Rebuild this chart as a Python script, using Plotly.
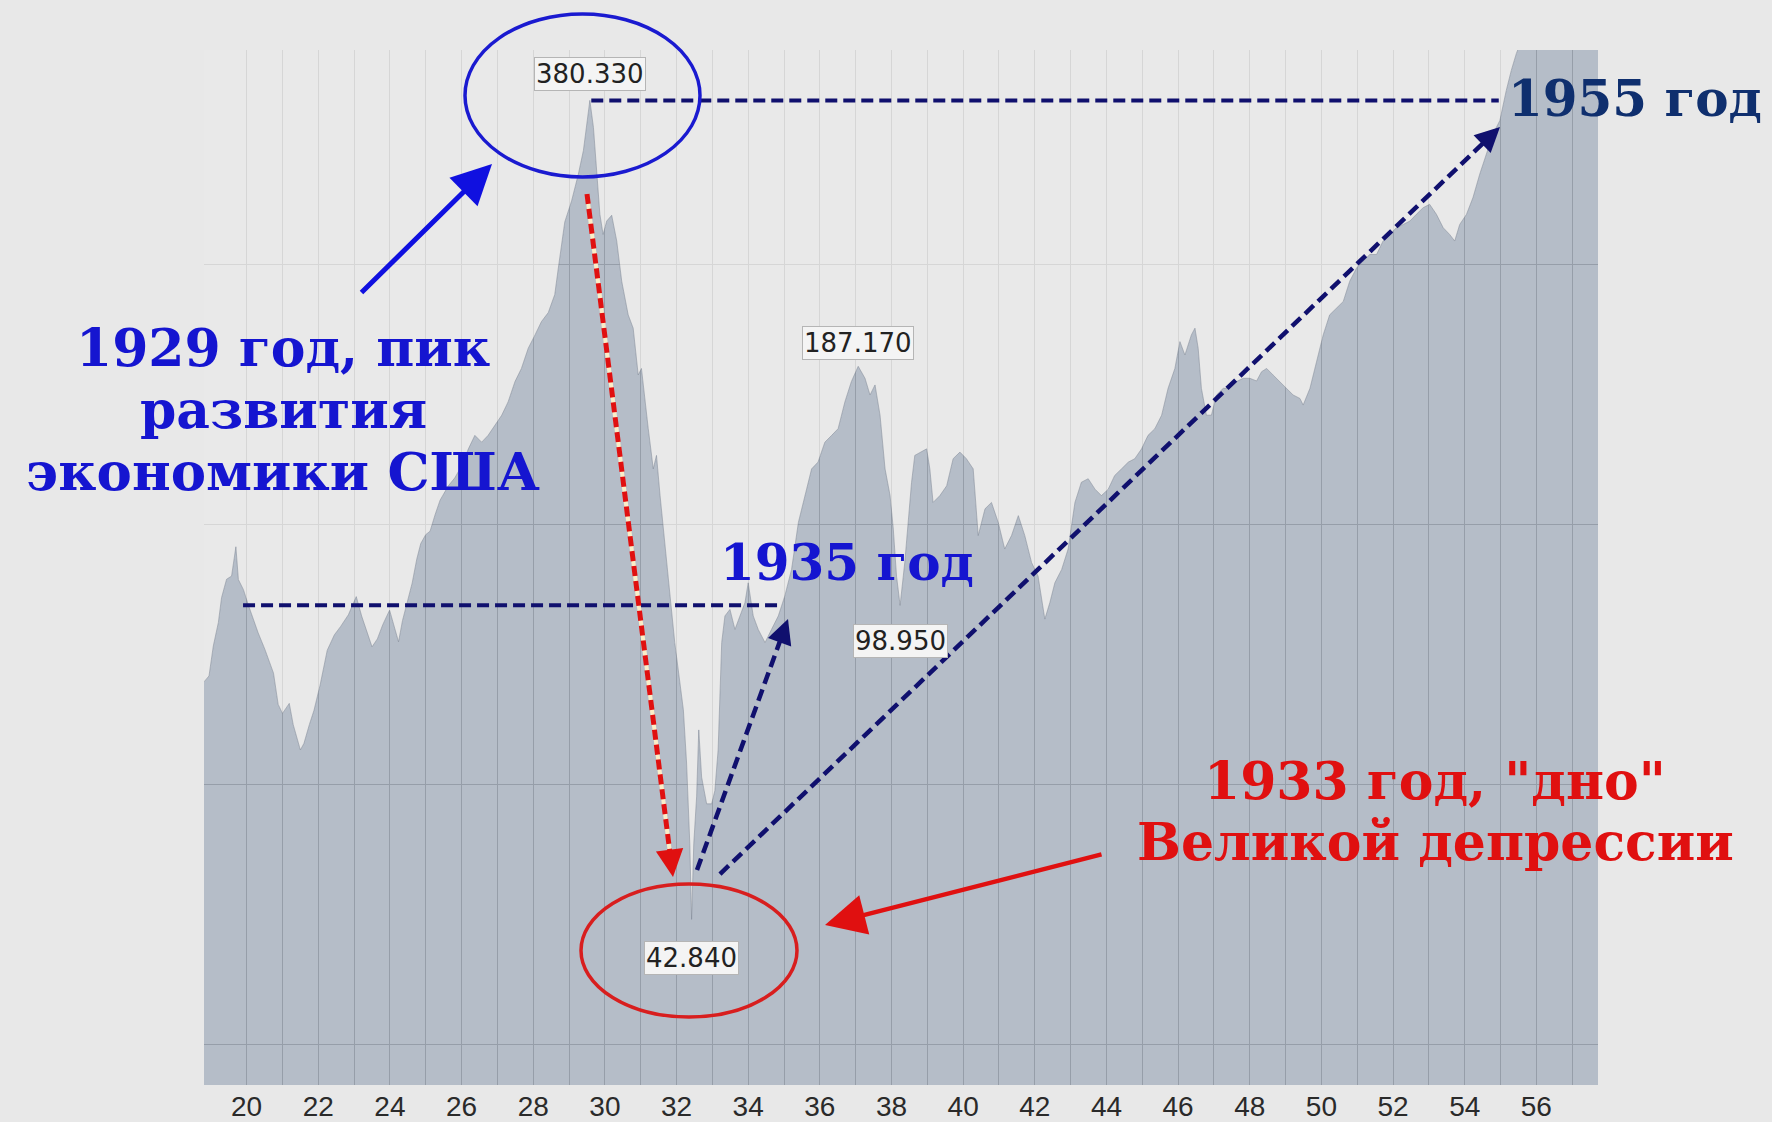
import math
import plotly.graph_objects as go

# ---------------- data ----------------
years = [1918.81, 1918.95, 1919.07, 1919.21, 1919.30, 1919.44, 1919.58, 1919.65, 1919.70, 1919.77,
         1919.91, 1920.05, 1920.19, 1920.32, 1920.51, 1920.65, 1920.75, 1920.88, 1921.00, 1921.19,
         1921.30, 1921.50, 1921.60, 1921.75, 1921.88, 1922.05, 1922.25, 1922.45, 1922.62, 1922.84,
         1923.06, 1923.21, 1923.38, 1923.50, 1923.65, 1923.80, 1923.99, 1924.14, 1924.24, 1924.35,
         1924.49, 1924.62, 1924.75, 1924.86, 1925.00, 1925.12, 1925.26, 1925.40, 1925.63, 1925.81,
         1926.00, 1926.10, 1926.19, 1926.37, 1926.56, 1926.74, 1926.93, 1927.12, 1927.30, 1927.49,
         1927.67, 1927.86, 1928.05, 1928.23, 1928.42, 1928.60, 1928.70, 1928.88, 1929.07, 1929.26,
         1929.40, 1929.49, 1929.58, 1929.68, 1929.77, 1929.86, 1929.95, 1930.05, 1930.19, 1930.33,
         1930.47, 1930.65, 1930.79, 1930.93, 1931.02, 1931.12, 1931.21, 1931.35, 1931.44, 1931.54,
         1931.68, 1931.82, 1931.95, 1932.09, 1932.19, 1932.28, 1932.37, 1932.42, 1932.48, 1932.56,
         1932.62, 1932.70, 1932.84, 1932.98, 1933.07, 1933.16, 1933.26, 1933.35, 1933.49, 1933.63,
         1933.77, 1933.91, 1934.00, 1934.14, 1934.28, 1934.47, 1934.65, 1934.84, 1935.02, 1935.21,
         1935.40, 1935.58, 1935.77, 1935.95, 1936.14, 1936.33, 1936.51, 1936.70, 1936.88, 1937.07,
         1937.26, 1937.40, 1937.54, 1937.68, 1937.82, 1937.96, 1938.05, 1938.14, 1938.24, 1938.37,
         1938.56, 1938.65, 1938.98, 1939.07, 1939.16, 1939.35, 1939.54, 1939.72, 1939.91, 1940.09,
         1940.28, 1940.42, 1940.61, 1940.79, 1940.98, 1941.16, 1941.35, 1941.54, 1941.72, 1941.91,
         1942.09, 1942.28, 1942.42, 1942.56, 1942.75, 1942.93, 1943.12, 1943.30, 1943.49, 1943.68,
         1943.86, 1944.05, 1944.23, 1944.42, 1944.61, 1944.79, 1944.98, 1945.16, 1945.35, 1945.54,
         1945.72, 1945.91, 1946.05, 1946.19, 1946.37, 1946.47, 1946.56, 1946.65, 1946.79, 1946.93,
         1947.07, 1947.26, 1947.44, 1947.63, 1947.82, 1948.00, 1948.19, 1948.33, 1948.47, 1948.65,
         1948.84, 1949.02, 1949.21, 1949.40, 1949.49, 1949.68, 1949.86, 1950.05, 1950.23, 1950.42,
         1950.61, 1950.79, 1950.98, 1951.16, 1951.35, 1951.54, 1951.72, 1951.91, 1952.09, 1952.28,
         1952.47, 1952.65, 1952.84, 1953.02, 1953.21, 1953.40, 1953.58, 1953.72, 1953.86, 1954.05,
         1954.23, 1954.42, 1954.61, 1954.79, 1954.98, 1955.07, 1955.16, 1955.30, 1955.44, 1955.58,
         1955.80, 1956.10, 1956.40, 1956.70, 1957.00, 1957.30, 1957.72]

index_values = [80.7, 82.0, 88.8, 94.5, 101.0, 106.1, 107.0, 112.0, 115.7, 106.0,
                103.2, 99.0, 95.0, 92.0, 88.0, 85.0, 82.6, 76.0, 74.2, 76.2,
                72.0, 67.3, 68.5, 72.0, 74.8, 80.0, 87.8, 91.5, 93.5, 96.5,
                101.3, 96.2, 91.5, 88.6, 90.5, 94.0, 97.7, 93.0, 89.8, 95.0,
                100.4, 105.0, 112.0, 116.7, 119.5, 120.6, 126.0, 131.0, 136.1, 139.0,
                143.5, 147.0, 150.2, 155.7, 152.9, 155.7, 159.9, 164.3, 170.3, 179.7,
                186.1, 196.4, 203.5, 210.9, 216.0, 226.6, 243.2, 275.0, 290.9, 312.5,
                332.7, 354.0, 380.33, 354.0, 312.5, 280.7, 266.0, 275.7, 280.0, 261.4,
                234.8, 214.7, 207.2, 182.9, 186.1, 170.3, 158.5, 142.4, 147.6, 132.6,
                115.0, 101.4, 89.6, 80.4, 74.9, 65.0, 52.4, 42.84, 52.4, 59.4,
                71.0, 62.6, 58.3, 58.3, 60.4, 67.3, 89.6, 96.2, 97.9, 92.8,
                96.2, 99.7, 105.1, 96.2, 92.8, 89.6, 92.8, 96.2, 101.4, 108.9,
                123.4, 132.6, 142.4, 145.0, 152.9, 155.7, 158.5, 170.3, 179.7, 187.17,
                181.3, 173.4, 178.1, 164.3, 142.4, 132.6, 121.3, 107.0, 98.95, 110.9,
                137.4, 147.6, 150.2, 142.4, 130.2, 132.6, 136.1, 146.3, 148.9, 146.3,
                142.4, 119.2, 128.0, 130.2, 123.4, 115.0, 119.2, 125.7, 119.2, 110.9,
                107.0, 95.4, 99.7, 105.1, 108.9, 115.0, 130.2, 137.4, 138.7, 134.9,
                132.6, 134.9, 139.9, 142.4, 145.0, 146.3, 150.2, 155.7, 158.5, 164.3,
                176.5, 186.1, 199.9, 192.9, 203.5, 207.2, 196.4, 176.5, 164.3, 164.3,
                173.4, 176.5, 176.5, 179.7, 181.3, 181.3, 180.0, 184.5, 186.1, 182.9,
                179.7, 176.5, 173.4, 171.8, 168.8, 176.5, 189.5, 203.5, 214.7, 218.6,
                222.5, 234.8, 243.2, 247.7, 252.2, 252.2, 261.4, 266.0, 270.8, 273.2,
                275.7, 280.7, 285.7, 288.3, 280.7, 270.8, 266.0, 261.4, 273.2, 280.7,
                293.5, 312.5, 329.7, 347.7, 360.4, 376.8, 390.5, 412.0, 430.8, 446.0,
                470.0, 485.0, 515.0, 500.0, 490.0, 500.0, 480.0]

grid_years = list(range(1920, 1958))
label_years = list(range(1920, 1957, 2))
label_text = ["20", "22", "24", "26", "28", "30", "32", "34", "36", "38",
              "40", "42", "44", "46", "48", "50", "52", "54", "56"]
y_grid_values = [30.7, 61.4, 122.8, 245.6]

x_range = [1918.81, 1957.72]
y_range = [27.55, 435.0]

peak_1929 = (1929.58, 380.33)
peak_1937 = (1937.07, 187.17)
low_1938 = (1938.24, 98.95)
low_1932 = (1932.42, 42.84)
level_peak = 380.33
level_1935 = 99.0
span_peak = (1929.62, 1954.95)
span_1935 = (1919.90, 1934.84)

# ---------------- layout helpers ----------------
FIG_W, FIG_H = 1772, 1122
ML, MR, MT, MB = 204, 174, 50, 37
PW = FIG_W - ML - MR
PH = FIG_H - MT - MB


def px(x):
    return (x - ML) / PW


def py(y):
    return (FIG_H - MB - y) / PH


BG = "#e8e8e8"
NAVY = "#10106e"
BLUE = "#1515d0"
RED = "#e01010"
DARKBLUE = "#0f2f6e"
GRID = "#9b9b9b"

fig = go.Figure()

# floor helper, area, ceiling veil (lightens the grid above the curve)
fig.add_trace(go.Scatter(x=[years[0], years[-1]], y=[10, 10], mode="lines",
                         line=dict(width=0), hoverinfo="skip", showlegend=False))
fig.add_trace(go.Scatter(x=years, y=index_values, mode="lines",
                         line=dict(color="rgba(125,135,150,0.55)", width=1),
                         fill="tonexty", fillcolor="rgba(146,160,179,0.60)",
                         showlegend=False, hoverinfo="x+y"))
fig.add_trace(go.Scatter(x=[years[0], years[-1]], y=[3000, 3000], mode="lines",
                         line=dict(width=0), fill="tonexty",
                         fillcolor="rgba(232,232,232,0.76)",
                         hoverinfo="skip", showlegend=False))

shapes = []
shapes.append(dict(type="line", xref="x", yref="y", x0=span_peak[0], x1=span_peak[1],
                   y0=level_peak, y1=level_peak, layer="above",
                   line=dict(color=NAVY, width=4, dash="12px,6px")))
shapes.append(dict(type="line", xref="x", yref="y", x0=span_1935[0], x1=span_1935[1],
                   y0=level_1935, y1=level_1935, layer="above",
                   line=dict(color=NAVY, width=4, dash="12px,6px")))

annotations = []


def dashed_arrow(tail, tip, color, width, dash, head_size, under=None):
    tx, ty = tail
    hx, hy = tip
    dx, dy = hx - tx, hy - ty
    ln = math.hypot(dx, dy)
    ux, uy = dx / ln, dy / ln
    back = 14
    ex, ey = hx - ux * back, hy - uy * back
    if under:
        shapes.append(dict(type="line", xref="paper", yref="paper",
                           x0=px(tx), y0=py(ty), x1=px(ex), y1=py(ey), layer="above",
                           line=dict(color=under, width=width - 1)))
    shapes.append(dict(type="line", xref="paper", yref="paper",
                       x0=px(tx), y0=py(ty), x1=px(ex), y1=py(ey), layer="above",
                       line=dict(color=color, width=width, dash=dash)))
    annotations.append(dict(xref="paper", yref="paper", x=px(hx), y=py(hy),
                            ax=-ux * 22, ay=-uy * 22, text="", showarrow=True,
                            arrowhead=2, arrowsize=1.1, arrowwidth=width,
                            arrowcolor=color))


dashed_arrow((587, 194), (673, 877), RED, 5, "10px,5px", 1.1, under="rgba(255,240,200,0.95)")
dashed_arrow((697, 870), (788, 619), NAVY, 4.5, "12px,6px", 1.1)
dashed_arrow((720, 874), (1500, 127), NAVY, 4.5, "12px,6px", 1.1)

# ellipses
shapes.append(dict(type="circle", xref="paper", yref="paper",
                   x0=px(465), x1=px(700), y0=py(177), y1=py(14), layer="above",
                   line=dict(color="#1a1ad0", width=3.5)))
shapes.append(dict(type="circle", xref="paper", yref="paper",
                   x0=px(581), x1=px(797), y0=py(1017), y1=py(884), layer="above",
                   line=dict(color="#d81e1e", width=3.5)))

# solid arrows
annotations.append(dict(xref="paper", yref="paper", x=px(492), y=py(164),
                        ax=360 - 492, ay=294 - 164, text="", showarrow=True,
                        arrowhead=2, arrowsize=1.6, arrowwidth=5, arrowcolor="#1010e0"))
annotations.append(dict(xref="paper", yref="paper", x=px(825), y=py(925),
                        ax=1103 - 825, ay=854 - 925, text="", showarrow=True,
                        arrowhead=2, arrowsize=1.8, arrowwidth=4.5, arrowcolor=RED))

# value tags
tag_font = dict(family="DejaVu Sans, Verdana, sans-serif", size=26, color="#222222")
for (xv, yv), txt, anchor, shift in [
    (peak_1929, "380.330", "bottom", 9),
    (peak_1937, "187.170", "bottom", 6),
    (low_1938, "98.950", "top", -19),
    (low_1932, "42.840", "top", -22),
]:
    annotations.append(dict(xref="x", yref="y", x=xv, y=math.log10(yv), text=txt,
                            showarrow=False, yanchor=anchor, yshift=shift,
                            font=tag_font, bgcolor="#f4f4f4", bordercolor="#b5b5b5",
                            borderwidth=1, borderpad=1))


def caption(text, x, y, size, color, xanchor="center"):
    annotations.append(dict(xref="paper", yref="paper", x=px(x), y=py(y), text=text,
                            showarrow=False, xanchor=xanchor, yanchor="middle",
                            font=dict(family="DejaVu Serif, serif", size=size,
                                      color=color, weight="bold")))


caption("1929 год, пик", 283, 347, 52, BLUE)
caption("развития", 283, 409, 52, BLUE)
caption("экономики США", 283, 471, 53, BLUE)
caption("1935 год", 718, 562, 50, BLUE, xanchor="left")
caption("1955 год", 1506, 98, 50, DARKBLUE, xanchor="left")
caption("1933 год, \"дно\"", 1435, 780, 52, RED)
caption("Великой депрессии", 1435, 841, 52, RED)

fig.update_layout(
    width=FIG_W, height=FIG_H,
    margin=dict(l=ML, r=MR, t=MT, b=MB, pad=0, autoexpand=False),
    paper_bgcolor=BG, plot_bgcolor=BG,
    showlegend=False,
    shapes=shapes, annotations=annotations,
    xaxis=dict(range=x_range, tickmode="array", tickvals=label_years, ticktext=label_text,
               automargin=False,
               showgrid=True, gridcolor=GRID, gridwidth=1, zeroline=False, showline=False,
               ticks="", ticklabelstandoff=2,
               tickfont=dict(family="Liberation Sans, Arial, sans-serif", size=28, color="#2a2a2a"),
               minor=dict(tickmode="array", tickvals=grid_years, showgrid=True,
                          gridcolor=GRID, gridwidth=1, ticks="")),
    yaxis=dict(type="log", range=[math.log10(y_range[0]), math.log10(y_range[1])],
               automargin=False,
               tickmode="array", tickvals=y_grid_values, showticklabels=False,
               showgrid=True, gridcolor=GRID, gridwidth=1, zeroline=False,
               showline=False, ticks=""),
)

fig.write_html("out.html",
               config={"displayModeBar": False},
               post_script="document.body.style.margin='0px';"
                           "document.body.style.overflow='hidden';"
                           "document.body.style.background='#e8e8e8';")
